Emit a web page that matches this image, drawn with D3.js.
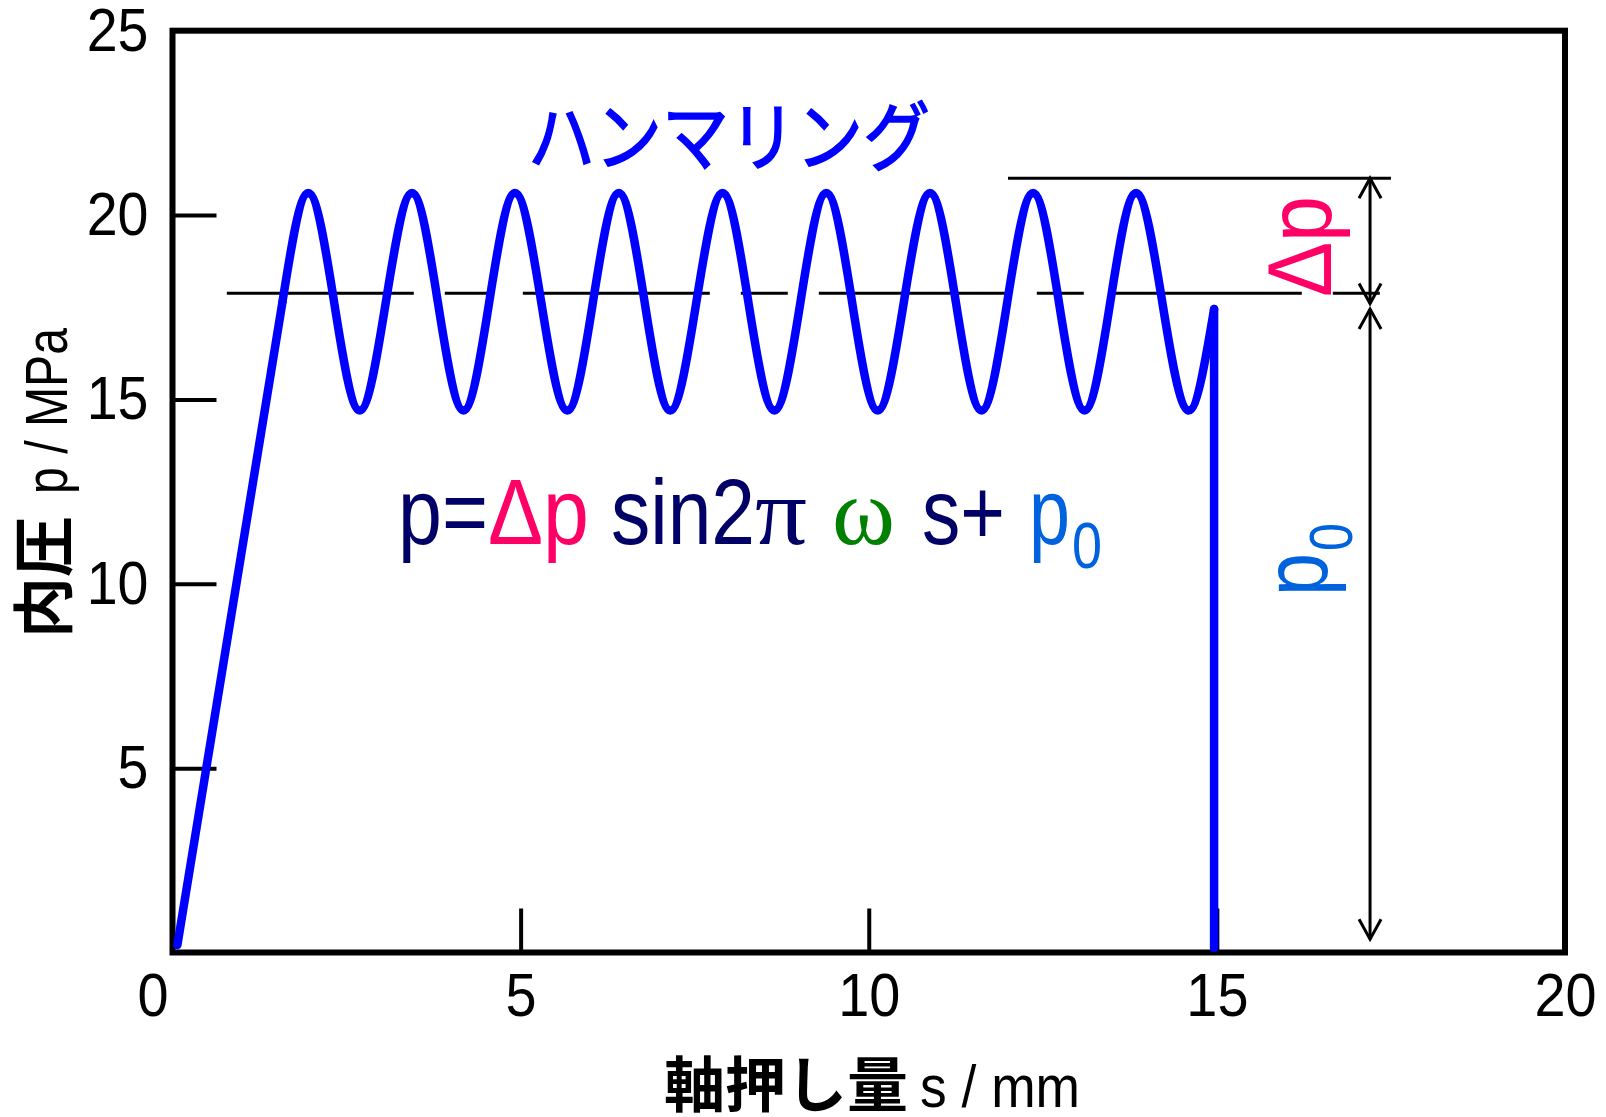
<!DOCTYPE html>
<html>
<head>
<meta charset="utf-8">
<script src="https://cdn.jsdelivr.net/npm/d3@7"></script>
<style>
  body { margin: 0; background: #fff; }
</style>
</head>
<body>
<div id="chart"></div>
<script>
// Tick values
const xTicks = [0, 5, 10, 15, 20];
const yTicks = [5, 10, 15, 20, 25];

// Loading ramp (s in mm, p in MPa)
const rampS = [0.07, 1.58];
const rampP = [0.2, 17.65];

// Hammering oscillation: crossings, peaks and troughs
const waveS = [1.58, 1.95, 2.32, 2.69, 3.065, 3.44, 3.81, 4.18, 4.55, 4.92, 5.295, 5.67,
               6.04, 6.41, 6.78, 7.15, 7.525, 7.90, 8.27, 8.645, 9.02, 9.39, 9.76, 10.13,
               10.505, 10.88, 11.25, 11.62, 11.99, 12.36, 12.73, 13.10, 13.47, 13.84, 14.215, 14.59,
               14.96];
const waveP = [17.65, 20.6, 17.65, 14.7, 17.65, 20.6, 17.65, 14.7, 17.65, 20.6, 17.65, 14.7,
               17.65, 20.6, 17.65, 14.7, 17.65, 20.6, 17.65, 14.7, 17.65, 20.6, 17.65, 14.7,
               17.65, 20.6, 17.65, 14.7, 17.65, 20.6, 17.65, 14.7, 17.65, 20.6, 17.65, 14.7,
               17.45];

// Unloading drop
const dropS = [14.96, 14.96];
const dropP = [17.45, 0.12];

// Reference lines
const p0LineS = [0.78, 17.5];
const p0Level = 17.88;
const topLineS = [12, 17.5];
const topLevel = 21;

// Dimension arrows
const arrowS = 17.2;
const dpArrowP = [21, 17.6];
const p0ArrowP = [17.45, 0.36];

const width = 1606, height = 1117;
const latin = "'Liberation Sans', Arial, sans-serif";
const serif = "'Liberation Serif', 'Times New Roman', serif";
const cjk = "'Noto Sans CJK JP', 'Noto Sans CJK SC', sans-serif";

const svg = d3.select("#chart")
              .append("svg")
              .attr("width", width)
              .attr("height", height);

const x = d3.scaleLinear().domain([0, 20]).range([172.5, 1565]);
const y = d3.scaleLinear().domain([0, 25]).range([952.5, 30.7]);

// squeeze text horizontally to a given length
function squeeze(sel, len) {
    sel.attr("textLength", len).attr("lengthAdjust", "spacingAndGlyphs");
}

// Frame
svg.append("rect")
   .attr("x", x(0))
   .attr("y", y(25))
   .attr("width", x(20) - x(0))
   .attr("height", y(0) - y(25))
   .attr("fill", "none")
   .attr("stroke", "black")
   .attr("stroke-width", 6);

// X axis (ticks point inward)
const xAxis = svg.append("g")
   .attr("transform", `translate(0,${y(0)})`)
   .call(d3.axisBottom(x).tickValues(xTicks).tickSizeInner(-44).tickSizeOuter(0).tickPadding(19));
xAxis.select(".domain").remove();
xAxis.selectAll("line").attr("stroke", "black").attr("stroke-width", 4)
     .filter(d => d === 0 || d === 20).remove();
xAxis.selectAll("text")
     .attr("font-family", latin)
     .attr("font-size", 62)
     .attr("fill", "black")
     .attr("dx", d => d === 0 ? -20 : 0)
     .each(function() { squeeze(d3.select(this), this.getComputedTextLength() * 0.9); });

// Y axis
const yAxis = svg.append("g")
   .attr("transform", `translate(${x(0)},0)`)
   .call(d3.axisLeft(y).tickValues(yTicks).tickSizeInner(-44).tickSizeOuter(0).tickPadding(24));
yAxis.select(".domain").remove();
yAxis.selectAll("line").attr("stroke", "black").attr("stroke-width", 4)
     .filter(d => d === 25).remove();
yAxis.selectAll("text")
     .attr("font-family", latin)
     .attr("font-size", 61)
     .attr("fill", "black")
     .each(function() { squeeze(d3.select(this), this.getComputedTextLength() * 0.91); });

// Reference lines
svg.append("line")
   .attr("x1", x(p0LineS[0])).attr("x2", x(p0LineS[1]))
   .attr("y1", y(p0Level)).attr("y2", y(p0Level))
   .attr("stroke", "black")
   .attr("stroke-width", 3)
   .attr("stroke-dasharray", "187,31,47,31");

svg.append("line")
   .attr("x1", x(topLineS[0])).attr("x2", x(topLineS[1]))
   .attr("y1", y(topLevel)).attr("y2", y(topLevel))
   .attr("stroke", "black")
   .attr("stroke-width", 3);

// Arrow heads
svg.append("defs").append("marker")
   .attr("id", "head")
   .attr("viewBox", "-24 -14 28 28")
   .attr("refX", 0).attr("refY", 0)
   .attr("markerWidth", 28).attr("markerHeight", 28)
   .attr("markerUnits", "userSpaceOnUse")
   .attr("orient", "auto-start-reverse")
   .append("path")
   .attr("d", "M-20,-11L0,0L-20,11")
   .attr("fill", "none")
   .attr("stroke", "black")
   .attr("stroke-width", 3);

[dpArrowP, p0ArrowP].forEach(a => {
    svg.append("line")
       .attr("x1", x(arrowS)).attr("x2", x(arrowS))
       .attr("y1", y(a[0])).attr("y2", y(a[1]))
       .attr("stroke", "black")
       .attr("stroke-width", 3)
       .attr("marker-start", "url(#head)")
       .attr("marker-end", "url(#head)");
});

// Pressure curve
const lineLin = d3.line().x(d => x(d[0])).y(d => y(d[1]));
const lineNat = d3.line().x(d => x(d[0])).y(d => y(d[1])).curve(d3.curveNatural);

function drawCurve(sArr, pArr, gen) {
    svg.append("path")
       .datum(d3.zip(sArr, pArr))
       .attr("fill", "none")
       .attr("stroke", "#0000ff")
       .attr("stroke-width", 8.5)
       .attr("stroke-linecap", "round")
       .attr("stroke-linejoin", "round")
       .attr("d", gen);
}
drawCurve(rampS, rampP, lineLin);
drawCurve(waveS, waveP, lineNat);
drawCurve(dropS, dropP, lineLin);

// Annotation: hammering
svg.append("text")
   .attr("x", 528).attr("y", 165)
   .attr("font-family", cjk)
   .attr("font-size", 76)
   .attr("fill", "#0000ff")
   .attr("stroke", "#0000ff")
   .attr("stroke-width", 1.6)
   .text("ハンマリング")
   .call(squeeze, 402);

// Equation p = Δp sin2π ω s + p0
const navy = "#000066", pink = "#ff0066", green = "#008000", blue0 = "#0062dc";
const eq = [
    {t: "p=",   x: 398,  len: 90,  c: navy,  f: latin, fs: 92, y: 544},
    {t: "Δp",   x: 488,  len: 101, c: pink,  f: latin, fs: 92, y: 544},
    {t: "sin2", x: 611,  len: 144, c: navy,  f: latin, fs: 92, y: 544},
    {t: "π",    x: 755,  len: 52,  c: navy,  f: serif, fs: 96, y: 544},
    {t: "ω",    x: 832,  len: 63,  c: green, f: serif, fs: 96, y: 544},
    {t: "s+",   x: 922,  len: 83,  c: navy,  f: latin, fs: 92, y: 544},
    {t: "p",    x: 1029, len: 41,  c: blue0, f: latin, fs: 92, y: 544},
    {t: "0",    x: 1072, len: 30,  c: blue0, f: latin, fs: 64, y: 568}
];
eq.forEach(e => {
    svg.append("text")
       .attr("x", e.x).attr("y", e.y)
       .attr("font-family", e.f)
       .attr("font-size", e.fs)
       .attr("fill", e.c)
       .text(e.t)
       .call(squeeze, e.len);
});

// Rotated Δp label
svg.append("text")
   .attr("transform", "translate(1331,297) rotate(-90)")
   .attr("font-family", latin)
   .attr("font-size", 90)
   .attr("fill", pink)
   .text("Δp")
   .call(squeeze, 101);

// Rotated p0 label
const p0g = svg.append("g").attr("transform", "translate(1327,596) rotate(-90)");
p0g.append("text")
   .attr("font-family", latin).attr("font-size", 90).attr("fill", blue0)
   .text("p").call(squeeze, 43);
p0g.append("text")
   .attr("x", 45).attr("y", 25)
   .attr("font-family", latin).attr("font-size", 62).attr("fill", blue0)
   .text("0").call(squeeze, 28);

// Y axis title
const yt = svg.append("g").attr("transform", "translate(67,638) rotate(-90)");
yt.append("text")
  .attr("font-family", cjk).attr("font-weight", "bold").attr("font-size", 62)
  .text("内圧").call(squeeze, 122);
yt.append("text")
  .attr("x", 144)
  .attr("font-family", latin).attr("font-size", 60)
  .text("p / MPa").call(squeeze, 166);

// X axis title
svg.append("text")
   .attr("x", 664).attr("y", 1107)
   .attr("font-family", cjk).attr("font-weight", "bold").attr("font-size", 60)
   .text("軸押し量").call(squeeze, 244);
svg.append("text")
   .attr("x", 920).attr("y", 1107)
   .attr("font-family", latin).attr("font-size", 60)
   .text("s / mm").call(squeeze, 160);
</script>
</body>
</html>
